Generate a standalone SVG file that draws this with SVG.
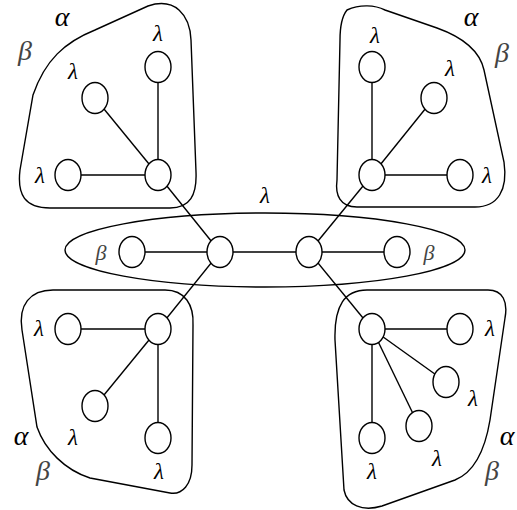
<svg xmlns="http://www.w3.org/2000/svg" width="517" height="510" viewBox="0 0 517 510">
<style>
.blob{fill:none;stroke:#000;stroke-width:1.4}
.n{fill:#fff;stroke:#000;stroke-width:1.4}
.e{stroke:#000;stroke-width:1.4;fill:none}
.l{font-family:"Liberation Serif","DejaVu Serif",serif;font-style:italic;font-size:23px;fill:#000;text-anchor:middle}
.g{font-family:"Liberation Serif","DejaVu Serif",serif;font-style:italic;font-size:28px;fill:#444;text-anchor:middle}
.a{font-family:"Liberation Serif","DejaVu Serif",serif;font-style:italic;font-size:28px;fill:#000;text-anchor:middle}
</style>
<rect width="517" height="510" fill="#fff"/>
<g id="blobs">
<path class="blob" d="M33,95 C45,60 65,42 95,30 L148,6 C175,-3 190,15 191,40 L196,172 C197,195 190,208 170,208 L50,208 C25,208 17,195 20,170 Z"/>
<path class="blob" d="M347,10 C360,4 375,5 385,10 L437,28 C465,38 480,52 484,70 L504,162 C508,190 498,207 475,207 L357,207 C340,207 335,195 337,180 L340,40 C340,25 343,15 347,10 Z"/>
<path class="blob" d="M53,290 L165,290 C185,290 194,305 193,325 L192,465 C192,485 182,495 170,493 L90,478 C65,470 45,450 37,427 L22,330 C18,305 30,290 53,290 Z"/>
<path class="blob" d="M367,290 L488,290 C503,290 508,302 505,318 L490,420 C485,450 475,472 455,480 L382,506 C362,512 347,505 344,490 L335,340 C334,305 345,290 367,290 Z"/>
<ellipse class="blob" cx="265" cy="250" rx="200" ry="37"/>
</g>
<g id="connectors">
<line class="e" x1="158" y1="175" x2="220" y2="252"/>
<line class="e" x1="372" y1="175" x2="309" y2="252"/>
<line class="e" x1="158" y1="329" x2="220" y2="252"/>
<line class="e" x1="372" y1="329" x2="309" y2="252"/>
<line class="e" x1="132" y1="252" x2="397" y2="252"/>
<line class="e" x1="158" y1="175" x2="158" y2="67"/>
<line class="e" x1="158" y1="175" x2="95" y2="98"/>
<line class="e" x1="158" y1="175" x2="68" y2="175"/>
<line class="e" x1="372" y1="175" x2="372" y2="67"/>
<line class="e" x1="372" y1="175" x2="434" y2="98"/>
<line class="e" x1="372" y1="175" x2="460" y2="175"/>
<line class="e" x1="158" y1="329" x2="68" y2="329"/>
<line class="e" x1="158" y1="329" x2="95" y2="406"/>
<line class="e" x1="158" y1="329" x2="158" y2="438"/>
<line class="e" x1="372" y1="329" x2="460" y2="329"/>
<line class="e" x1="372" y1="329" x2="446" y2="382"/>
<line class="e" x1="372" y1="329" x2="419" y2="426"/>
<line class="e" x1="372" y1="329" x2="372" y2="438"/>
</g>
<g id="tl">
<ellipse class="n" cx="158" cy="175" rx="13" ry="15.5"/>
<ellipse class="n" cx="158" cy="67" rx="13" ry="15.5"/>
<ellipse class="n" cx="95" cy="98" rx="13" ry="15.5"/>
<ellipse class="n" cx="68" cy="175" rx="13" ry="15.5"/>
<text class="l" x="158" y="41">λ</text>
<text class="l" x="73" y="79">λ</text>
<text class="l" x="40" y="183">λ</text>
<text class="a" x="62" y="26">α</text>
<text class="g" x="25" y="60">β</text>
</g>
<g id="tr">
<ellipse class="n" cx="372" cy="175" rx="13" ry="15.5"/>
<ellipse class="n" cx="372" cy="67" rx="13" ry="15.5"/>
<ellipse class="n" cx="434" cy="98" rx="13" ry="15.5"/>
<ellipse class="n" cx="460" cy="175" rx="13" ry="15.5"/>
<text class="l" x="375" y="43">λ</text>
<text class="l" x="450" y="76">λ</text>
<text class="l" x="487" y="183">λ</text>
<text class="a" x="471" y="26">α</text>
<text class="g" x="502" y="62">β</text>
</g>
<g id="mid">
<ellipse class="n" cx="132" cy="252" rx="13" ry="15.5"/>
<ellipse class="n" cx="220" cy="252" rx="13" ry="15.5"/>
<ellipse class="n" cx="309" cy="252" rx="13" ry="15.5"/>
<ellipse class="n" cx="397" cy="252" rx="13" ry="15.5"/>
<text class="l" x="265" y="203">λ</text>
<text class="g" x="101" y="260" style="font-size:22px">β</text>
<text class="g" x="429" y="260" style="font-size:22px">β</text>
</g>
<g id="bl">
<ellipse class="n" cx="158" cy="329" rx="13" ry="15.5"/>
<ellipse class="n" cx="68" cy="329" rx="13" ry="15.5"/>
<ellipse class="n" cx="95" cy="406" rx="13" ry="15.5"/>
<ellipse class="n" cx="158" cy="438" rx="13" ry="15.5"/>
<text class="l" x="39" y="336">λ</text>
<text class="l" x="73" y="445">λ</text>
<text class="l" x="159" y="479">λ</text>
<text class="a" x="21" y="445">α</text>
<text class="g" x="43" y="480">β</text>
</g>
<g id="br">
<ellipse class="n" cx="372" cy="329" rx="13" ry="15.5"/>
<ellipse class="n" cx="460" cy="329" rx="13" ry="15.5"/>
<ellipse class="n" cx="446" cy="382" rx="13" ry="15.5"/>
<ellipse class="n" cx="419" cy="426" rx="13" ry="15.5"/>
<ellipse class="n" cx="372" cy="438" rx="13" ry="15.5"/>
<text class="l" x="490" y="336">λ</text>
<text class="l" x="473" y="406">λ</text>
<text class="l" x="437" y="466">λ</text>
<text class="l" x="372" y="479">λ</text>
<text class="a" x="507" y="445">α</text>
<text class="g" x="492" y="480">β</text>
</g>
</svg>
